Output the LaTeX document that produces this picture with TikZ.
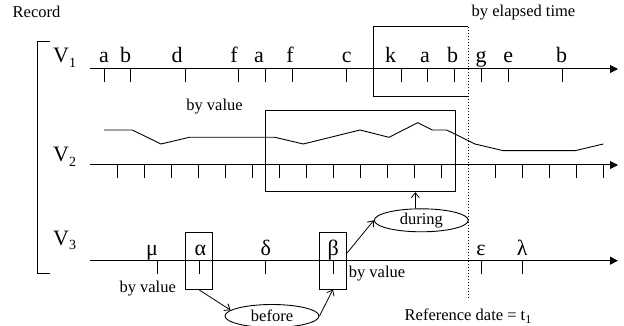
\documentclass[tikz,border=0pt]{standalone}
\usepackage{fontspec}
\setmainfont{Liberation Serif}
\usetikzlibrary{arrows.meta,shapes.geometric}
\newcommand{\sbs}[1]{\raisebox{-0.2em}{\fontsize{14}{14}\selectfont #1}}
\newcommand{\ssbs}[1]{\raisebox{-0.2em}{\fontsize{12}{12}\selectfont #1}}
\begin{document}
\begin{tikzpicture}[x=1pt,y=-1pt,
  axis/.style={line width=1pt,-{Triangle[length=8pt,width=8pt]}},
  tickmark/.style={line width=0.8pt},
  big/.style={font=\fontsize{22}{24}\selectfont,inner sep=0pt,anchor=base},
  small/.style={font=\fontsize{16.5}{18}\selectfont,inner sep=0pt,anchor=base},
  frame/.style={draw,line width=0.9pt,inner sep=0pt},
  conn/.style={line width=0.8pt,-{Straight Barb[length=5pt,width=8pt]}},
  oval/.style={ellipse,draw,line width=0.9pt,minimum width=94pt,minimum height=23pt,inner sep=0pt,font=\fontsize{16.5}{18}\selectfont},
  dotline/.style={line width=0.9pt,dash pattern=on 1.3pt off 1.7pt}]
\useasboundingbox (0,0) rectangle (624,326);

% labels
\node[small] (record) at (36.5,18) {Record};
\node[small] (elapsed) at (523.5,17) {by elapsed time};
\node[big,anchor=base west] (v1) at (53,63) {V\sbs{1}};
\node[big,anchor=base west] (v2) at (53,162) {V\sbs{2}};
\node[big,anchor=base west] (v3) at (53,245) {V\sbs{3}};

% bracket
\coordinate (brt) at (50,41.7);
\coordinate (brb) at (50,273);
\draw[line width=0.9pt] (brt) -- (37.3,41.7) -- (37.3,273) -- (brb);

% axis V1
\coordinate (a1s) at (90,69);
\coordinate (a1e) at (618,69);
\draw[axis] (a1s) -- (a1e);
\foreach \x in {104,130.7,185.3,238.7,265.7,292.7,346.7,401,427.7,454.3,481,508.3,562.7}
  \draw[tickmark] (\x,69) -- (\x,82);
\foreach \x/\l [count=\i] in {104/a,125.5/b,177/d,234/f,259/a,290/f,346.7/c,390.7/k,425/a,452.7/b,481/g,508.3/e,561.7/b}
  \node[big] (l\i) at (\x,63) {\l};

% box V1 (right side is the dotted line)
\coordinate (b1tr) at (468.3,26.7);
\coordinate (b1br) at (468.3,96.7);
\draw[line width=0.9pt] (b1tr) -- (373.3,26.7) -- (373.3,96.7) -- (b1br);
\coordinate (dtop) at (468.3,26.7);
\coordinate (dbot) at (468.3,298);
\draw[dotline] (dtop) -- (dbot);

% axis V2
\coordinate (a2s) at (90,165);
\coordinate (a2e) at (618,165);
\draw[axis] (a2s) -- (a2e);
\foreach \x in {117,144,171,198,225,252,279,306,333,360,387,414,441,495,522,549,576,603}
  \draw[tickmark] (\x,165) -- (\x,178);
\draw[line width=0.9pt] (104,130) -- (132.3,130) -- (161,144) -- (189.3,137.3) -- (275,137.3) -- (303.3,144) -- (360,130) -- (389,137.3) -- (417.7,122.7) -- (432.3,130) -- (446.7,130) -- (475,144) -- (503.3,150.7) -- (575,150.7) -- (603.3,144);
\node[small] (byv2) at (214.5,111) {by value};
\node[frame,minimum width=189.3pt,minimum height=81.7pt] (box2) at (360.35,150.85) {};

% axis V3
\coordinate (a3s) at (90,260.7);
\coordinate (a3e) at (618,260.7);
\draw[axis] (a3s) -- (a3e);
\foreach \x in {157.3,199,265.7,333.3,481,522.3}
  \draw[tickmark] (\x,260.7) -- (\x,274);
\foreach \x/\l [count=\i] in {152/μ,200.5/α,265.7/δ,333.3/β,481/ε,522.3/λ}
  \node[big] (g\i) at (\x,255.5) {\l};
\node[frame,minimum width=27pt,minimum height=56.2pt] (abox) at (198.5,260.9) {};
\node[frame,minimum width=27.4pt,minimum height=56.2pt] (bbox) at (333,260.9) {};
\node[small] (byv3l) at (147.7,292) {by value};
\node[small] (byv3r) at (377,277) {by value};

\node[oval] (before) at (272,316) {before};
\node[oval] (during) at (421.3,220.3) {during};

\draw[conn] (abox.south) -- (before.172);
\draw[conn] (before.east) -- (bbox.south);
\draw[conn] ([yshift=8pt]bbox.east) -- (during.west);
\draw[conn] ([xshift=-6pt]during.north) -- ([xshift=-6pt]during.north |- box2.south);

\node[small] (refdate) at (468,320) {Reference date = t\ssbs{1}};
\end{tikzpicture}
\end{document}
